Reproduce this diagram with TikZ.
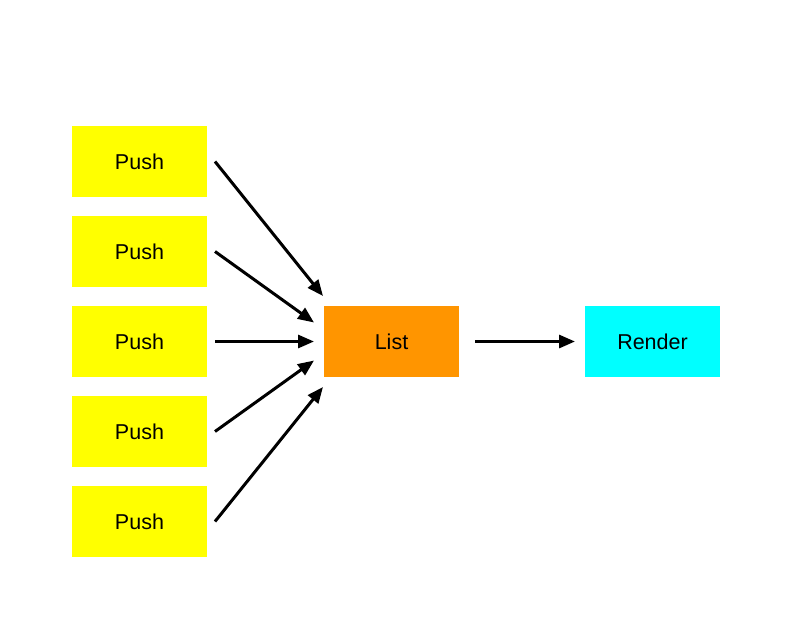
\documentclass[tikz,border=0pt]{standalone}
\usepackage{fontspec}
\setmainfont{Liberation Sans}
\usetikzlibrary{arrows.meta}
\definecolor{pushyellow}{HTML}{FFFF00}
\definecolor{listorange}{HTML}{FF9500}
\definecolor{rendercyan}{HTML}{00FFFF}
\begin{document}
\begin{tikzpicture}[x=1pt,y=-1pt,
  box/.style={minimum width=135pt,minimum height=71pt,inner sep=0pt,outer sep=0pt,
    font=\fontsize{21.5}{24}\selectfont},
  pushbox/.style={box,fill=pushyellow},
  conn/.style={line width=3pt,-{Triangle[length=16pt,width=13pt]}}]
\useasboundingbox (0,0) rectangle (792,630);
\node[pushbox] (p1) at (139.5,161.5) {Push};
\node[pushbox] (p2) at (139.5,251.5) {Push};
\node[pushbox] (p3) at (139.5,341.5) {Push};
\node[pushbox] (p4) at (139.5,431.5) {Push};
\node[pushbox] (p5) at (139.5,521.5) {Push};
\node[box,fill=listorange] (list) at (391.5,341.5) {List};
\node[box,fill=rendercyan] (render) at (652.5,341.5) {Render};
\coordinate (s1) at ([xshift=8pt]p1.east);
\coordinate (s2) at ([xshift=8pt]p2.east);
\coordinate (s3) at ([xshift=8pt]p3.east);
\coordinate (s4) at ([xshift=8pt]p4.east);
\coordinate (s5) at ([xshift=8pt]p5.east);
\coordinate (e1) at ([xshift=-1pt,yshift=10pt]list.north west);
\coordinate (e2) at ([xshift=-10pt,yshift=19pt]list.west);
\coordinate (e3) at ([xshift=-10pt]list.west);
\coordinate (e4) at ([xshift=-10pt,yshift=-19pt]list.west);
\coordinate (e5) at ([xshift=-1pt,yshift=-10pt]list.south west);
\draw[conn] (s1) -- (e1);
\draw[conn] (s2) -- (e2);
\draw[conn] (s3) -- (e3);
\draw[conn] (s4) -- (e4);
\draw[conn] (s5) -- (e5);
\draw[conn] ([xshift=16pt]list.east) -- ([xshift=-10pt]render.west);
\end{tikzpicture}
\end{document}
